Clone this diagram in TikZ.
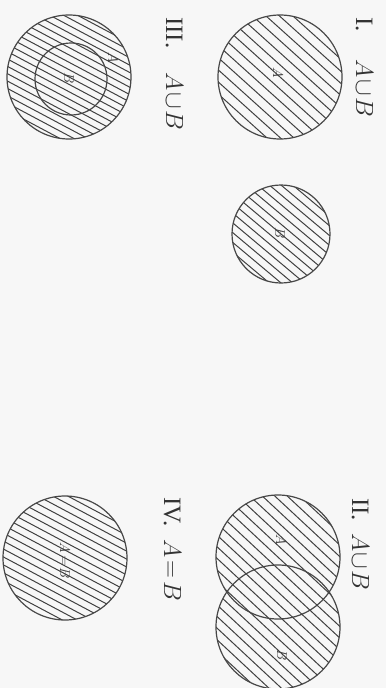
\documentclass[tikz,border=0pt]{standalone}
\usepackage{fontspec}
\setmainfont{Liberation Serif}
\newcommand{\hatchlines}[3]{% origin, angle, spacing
  \begin{scope}[shift={(#1)}, rotate=#2]
    \foreach \k in {-20,...,20} \draw[hatchline] (-90,\k*#3) -- (90,\k*#3);
  \end{scope}}
\begin{document}
\begin{tikzpicture}[x=1pt,y=-1pt,
  hatchline/.style={line width=1pt, draw=black!75},
  disc/.style={circle, draw=black!72, line width=1.2pt, inner sep=0pt, minimum size=#1},
  title/.style={rotate=-90, anchor=base west, inner sep=0pt, text=black!80, font=\fontsize{25}{28}\selectfont},
  inlbl/.style={rotate=-90, inner sep=0pt, text=black!75, font=\fontsize{15}{17}\selectfont}]
\fill[black!3] (0,0) rectangle (386,688);
\useasboundingbox (0,0) rectangle (386,688);

% positions
\coordinate (cIA) at (280,77);
\coordinate (cIB) at (281,234);
\coordinate (cIIA) at (278,557);
\coordinate (cIIB) at (278,627);
\coordinate (cIIIA) at (69,77);
\coordinate (cIIIB) at (71,79);
\coordinate (cIV) at (65,558);

% hatching
\begin{scope}\clip (cIA) circle[radius=62pt]; \hatchlines{cIA}{-42}{9} \end{scope}
\begin{scope}\clip (cIB) circle[radius=49pt]; \hatchlines{cIB}{-40}{7.5} \end{scope}
\begin{scope}\clip (cIIA) circle[radius=62pt] (cIIB) circle[radius=62pt]; \hatchlines{278,592}{-43}{8.5} \end{scope}
\begin{scope}\clip (cIIIA) circle[radius=62pt]; \hatchlines{cIIIA}{-28}{6.5} \end{scope}
\begin{scope}\clip (cIV) circle[radius=62pt]; \hatchlines{cIV}{-28}{7} \end{scope}

% outlines
\node[disc=124pt] (IA) at (cIA) {};
\node[disc=98pt] (IB) at (cIB) {};
\node[disc=124pt] (IIA) at (cIIA) {};
\node[disc=124pt] (IIB) at (cIIB) {};
\node[disc=124pt] (IIIA) at (cIIIA) {};
\node[disc=72pt] (IIIB) at (cIIIB) {};
\node[disc=124pt] (IV) at (cIV) {};

% inner letters
\node[inlbl] (lIA) at (278,73) {$A$};
\node[inlbl] (lIB) at (280,233) {$B$};
\node[inlbl] (lIIA) at (281,540) {$A$};
\node[inlbl] (lIIB) at (282,655) {$B$};
\node[inlbl] (lIIIA) at (113,58) {$A$};
\node[inlbl] (lIIIB) at (69,78) {$B$};
\node[inlbl] (lIV) at (65,561) {$A\!=\!B$};

% titles
\node[title] (tI) at (356,17) {I.\hspace{28pt}$A\!\cup\! B$};
\node[title] (tIII) at (166,17) {III.\hspace{24pt}$A\!\cup\! B$};
\node[title] (tII) at (352,498) {II.\hspace{12pt}$A\!\cup\! B$};
\node[title] (tIV) at (164,497) {IV.\hspace{13pt}$A\!=\!B$};
\end{tikzpicture}
\end{document}
